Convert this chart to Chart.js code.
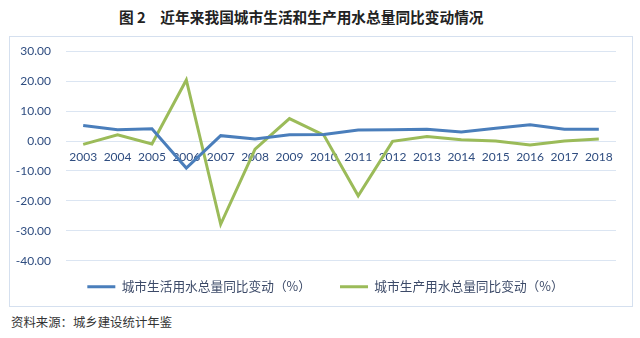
<!DOCTYPE html>
<html>
<head>
<meta charset="utf-8">
<script src="https://cdn.jsdelivr.net/npm/chart.js@4"></script>
<style>
  html, body { margin: 0; padding: 0; background: #fff; }
  body { width: 640px; height: 338px; position: relative; overflow: hidden; }
  #title {
    position: absolute; left: 119px; top: 6px;
    font: bold 14.7px "Noto Sans CJK SC", sans-serif; color: #222;
    white-space: pre;
  }
  #box {
    position: absolute; left: 9px; top: 36px; width: 624px; height: 271px;
    box-sizing: border-box; border: 1px solid #d5e0ef;
  }
  /* canvas is transparent, it may overlap the frame */
  #wrap { position: absolute; left: 9px; top: 29px; width: 633px; height: 278px; }
  #source {
    position: absolute; left: 11px; top: 313px;
    font: 12.4px "Noto Sans CJK SC", sans-serif; color: #333;
  }
</style>
</head>
<body>
<div id="title">图 2　近年来我国城市生活和生产用水总量同比变动情况</div>
<div id="box"></div>
<div id="wrap"><canvas id="water-chart"></canvas></div>
<div id="source">资料来源：城乡建设统计年鉴</div>

<script>
// years on the category axis
const years = ["2003", "2004", "2005", "2006", "2007", "2008", "2009", "2010",
               "2011", "2012", "2013", "2014", "2015", "2016", "2017", "2018"];
// 城市生活用水总量同比变动 (%)
const living = [5.2, 3.8, 4.1, -9.0, 1.8, 0.7, 2.1, 2.2, 3.7, 3.8, 3.9, 3.0, 4.3, 5.4, 3.9, 3.9];
// 城市生产用水总量同比变动 (%)
const production = [-1.1, 2.1, -1.0, 20.4, -27.8, -2.7, 7.5, 2.0, -18.3, -0.1, 1.5, 0.4, 0.0, -1.3, 0.0, 0.7];
const seriesNames = ["城市生活用水总量同比变动（%）", "城市生产用水总量同比变动（%）"];
const yTicks = [30, 20, 10, 0, -10, -20, -30, -40];

const tickColor = "#2f4d80";
const gridColor = "#dbe5f2";

function createWaterChart() {
  const canvas = document.querySelector("#water-chart");
  let options = {
    type: "line",
    data: {
      labels: years,
      datasets: [
        {
          label: seriesNames[0] + "\u3000\u3000", // extra gap before the second item
          data: living,
          borderColor: "#4a7ebb",
          backgroundColor: "#4a7ebb",
          borderWidth: 3,
          pointRadius: 0,
          tension: 0,
        },
        {
          label: seriesNames[1],
          data: production,
          borderColor: "#9bbb59",
          backgroundColor: "#9bbb59",
          borderWidth: 3,
          pointRadius: 0,
          tension: 0,
        },
      ],
    },
    options: {
      responsive: true,
      maintainAspectRatio: false,
      animation: false,
      layout: {
        // top space comes from the y labels (half height + tick padding)
        padding: { top: 0, right: 0, bottom: 4, left: 0 },
      },
      scales: {
        x: {
          position: { y: 0 }, // labels sit under the zero line
          offset: true,
          afterFit: (scale) => { scale.height = 0; }, // takes no room of its own
          grid: { display: false, drawTicks: false },
          border: { display: false },
          ticks: {
            color: tickColor,
            font: { family: "Lato", size: 12 },
            padding: 9,
            maxRotation: 0,
            autoSkip: false,
          },
        },
        y: {
          min: Math.min(...yTicks),
          max: Math.max(...yTicks),
          afterFit: (scale) => { scale.width = 57; },
          afterBuildTicks: (scale) => {
            scale.ticks = yTicks.slice().reverse().map(v => ({ value: v }));
          },
          grid: { color: gridColor, lineWidth: 1, drawTicks: false },
          border: { display: false },
          ticks: {
            color: tickColor,
            font: { family: "Lato", size: 12 },
            padding: 15,
            callback: (v) => Number(v).toFixed(2),
          },
        },
        // empty strip on the right, keeps the legend centred on the box
        yRight: {
          position: "right",
          min: Math.min(...yTicks),
          max: Math.max(...yTicks),
          afterFit: (scale) => { scale.width = 26; },
          grid: { display: false, drawTicks: false },
          border: { display: false },
          ticks: { display: false },
        },
      },
      plugins: {
        legend: {
          position: "bottom",
          title: { display: true, text: "", font: { size: 1, lineHeight: 1 }, padding: { top: 8.5, bottom: 0 } },
          labels: {
            boxWidth: 28,
            boxHeight: 3,
            padding: 10,
            color: "#3c4a68",
            font: { family: "Noto Sans CJK SC", size: 12.7 },
            generateLabels: (chart) =>
              Chart.defaults.plugins.legend.labels.generateLabels(chart).map(l => ({ ...l, lineWidth: 0 })),
          },
        },
        tooltip: { enabled: false },
      },
    },
  };
  const chart = new Chart(canvas.getContext("2d"), options);
}

createWaterChart();
</script>
</body>
</html>
